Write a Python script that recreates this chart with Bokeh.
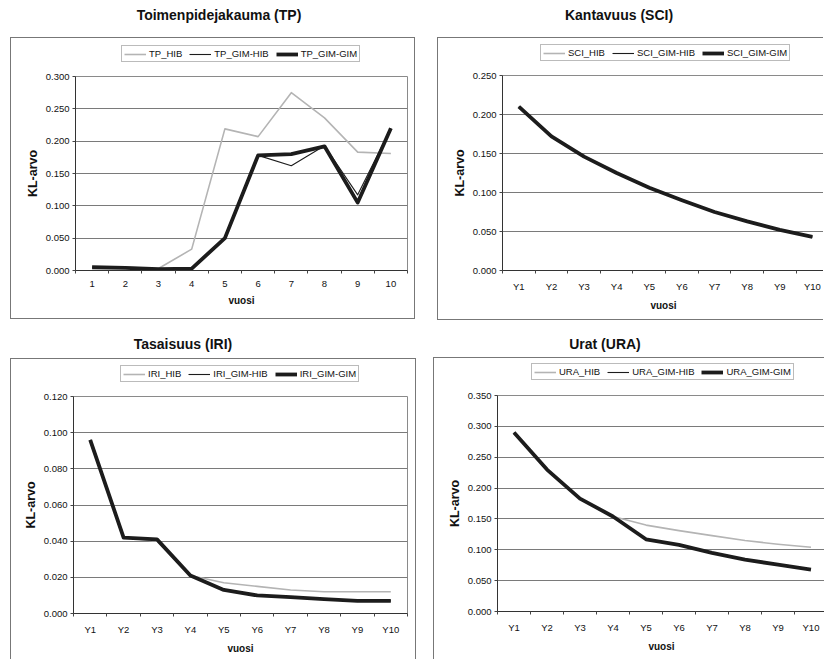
from bokeh.plotting import figure
from bokeh.models import Range1d, FixedTicker, Legend, LegendItem, Div, NumeralTickFormatter
from bokeh.layouts import row, column
from bokeh.embed import file_html
from bokeh.resources import INLINE

FONT = "Liberation Sans"
TEXT = "#111111"
BOX = "1px solid #777777"

# --- data -------------------------------------------------------------------
tp_years = ["1", "2", "3", "4", "5", "6", "7", "8", "9", "10"]
y_years = ["Y1", "Y2", "Y3", "Y4", "Y5", "Y6", "Y7", "Y8", "Y9", "Y10"]

tp_names = ["TP_HIB", "TP_GIM-HIB", "TP_GIM-GIM"]
tp_hib = [0.005, 0.005, 0.003, 0.033, 0.219, 0.207, 0.275, 0.236, 0.183, 0.181]
tp_gim_hib = [0.005, 0.004, 0.002, 0.003, 0.050, 0.178, 0.162, 0.193, 0.117, 0.220]
tp_gim_gim = [0.005, 0.004, 0.002, 0.003, 0.050, 0.178, 0.180, 0.192, 0.105, 0.220]
tp_yticks = [0.0, 0.05, 0.10, 0.15, 0.20, 0.25, 0.30]

sci_names = ["SCI_HIB", "SCI_GIM-HIB", "SCI_GIM-GIM"]
sci_hib = [0.210, 0.172, 0.146, 0.125, 0.106, 0.090, 0.075, 0.063, 0.052, 0.043]
sci_gim_hib = [0.210, 0.172, 0.146, 0.125, 0.106, 0.090, 0.075, 0.063, 0.052, 0.043]
sci_gim_gim = [0.210, 0.172, 0.146, 0.125, 0.106, 0.090, 0.075, 0.063, 0.052, 0.043]
sci_yticks = [0.0, 0.05, 0.10, 0.15, 0.20, 0.25]

iri_names = ["IRI_HIB", "IRI_GIM-HIB", "IRI_GIM-GIM"]
iri_hib = [0.096, 0.042, 0.040, 0.021, 0.017, 0.015, 0.013, 0.012, 0.012, 0.012]
iri_gim_hib = [0.096, 0.042, 0.041, 0.021, 0.013, 0.010, 0.009, 0.008, 0.007, 0.007]
iri_gim_gim = [0.096, 0.042, 0.041, 0.021, 0.013, 0.010, 0.009, 0.008, 0.007, 0.007]
iri_yticks = [0.0, 0.02, 0.04, 0.06, 0.08, 0.10, 0.12]

ura_names = ["URA_HIB", "URA_GIM-HIB", "URA_GIM-GIM"]
ura_hib = [0.290, 0.230, 0.183, 0.154, 0.140, 0.131, 0.123, 0.115, 0.109, 0.104]
ura_gim_hib = [0.290, 0.230, 0.183, 0.154, 0.117, 0.108, 0.095, 0.084, 0.076, 0.068]
ura_gim_gim = [0.290, 0.230, 0.183, 0.154, 0.117, 0.108, 0.095, 0.084, 0.076, 0.068]
ura_yticks = [0.0, 0.05, 0.10, 0.15, 0.20, 0.25, 0.30, 0.35]

# line look per series: pale hybrid, thin and thick GIM variants
LINE_STYLES = [
    dict(color="#b4b4b4", width=1.6),
    dict(color="#1c1c1c", width=1.1),
    dict(color="#1c1c1c", width=3.8),
]
LEG_STRIP = 30   # height of the strip holding the legend box


def title_div(text, width, height, pad_top, left=0):
    html = (f'<div style="font-family:\'{FONT}\'; font-weight:bold; font-size:14px; '
            f'color:{TEXT}; text-align:center; width:{width}px; padding-top:{pad_top}px; '
            f'line-height:16px; white-space:nowrap">{text}</div>')
    return Div(text=html, width=width, height=height, margin=(0, 0, 0, left))


def css(sides):
    d = {f"border-{s}": BOX for s in sides}
    d["box-sizing"] = "border-box"
    return d


def legend_strip(series, names, w, leg_left, leg_top, sides, margin):
    """Strip above the plotting area carrying the series legend.

    The series are drawn here too (outside the visible y range) so that the
    legend keys pick up the exact line styles."""
    n = len(series[0])
    s = figure(width=w, height=LEG_STRIP, x_range=Range1d(0.5, n + 0.5),
               y_range=Range1d(-2.0, -1.0),
               x_axis_location=None, y_axis_location=None,
               min_border_left=leg_left, min_border_top=leg_top,
               min_border_right=0, min_border_bottom=0,
               output_backend="svg", toolbar_location=None,
               margin=margin, styles=css(sides), frame_align=False)
    s.outline_line_color = None
    s.grid.visible = False
    s.background_fill_color = "white"
    s.border_fill_color = "white"
    xs = list(range(1, n + 1))
    keys = [s.line(xs, ys, line_color=st["color"], line_width=st["width"])
            for ys, st in zip(series, LINE_STYLES)]
    legend = Legend(
        items=[LegendItem(label=nm, renderers=[r]) for nm, r in zip(names, keys)],
        location="top_left",
        orientation="horizontal",
        border_line_color="#777777", border_line_width=1,
        background_fill_color="white", background_fill_alpha=1,
        label_text_font=FONT, label_text_font_size="9.5px", label_text_color=TEXT,
        glyph_width=22, glyph_height=10, label_height=10, label_standoff=3,
        spacing=7, padding=2, margin=0,
    )
    s.add_layout(legend)
    return s


def chart(cats, series, yticks, x_end, w, h, b_left, b_right, b_top, b_bottom,
          sides, margin):
    p = figure(width=w, height=h, x_range=Range1d(0.5, x_end),
               y_range=Range1d(yticks[0], yticks[-1]),
               output_backend="svg", toolbar_location=None,
               min_border_left=b_left, min_border_right=b_right,
               min_border_top=b_top, min_border_bottom=b_bottom,
               margin=margin, styles=css(sides), frame_align=False)
    p.background_fill_color = "white"
    p.border_fill_color = "white"
    p.outline_line_color = "#8a8a8a"

    xs = list(range(1, len(cats) + 1))
    for ys, st in zip(series, LINE_STYLES):
        p.line(xs, ys, line_color=st["color"], line_width=st["width"], line_join="round")

    # x axis: labels at the categories, small ticks between them
    xa = p.xaxis[0]
    xa.ticker = FixedTicker(ticks=xs, minor_ticks=[x - 0.5 for x in xs] + [xs[-1] + 0.5])
    xa.major_label_overrides = {x: c for x, c in zip(xs, cats)}
    xa.major_tick_out = 0
    xa.major_tick_in = 0
    xa.minor_tick_out = 3
    xa.minor_tick_in = 0
    xa.minor_tick_line_color = "#444444"
    xa.axis_line_color = "#333333"
    xa.major_label_standoff = 7
    xa.major_label_text_font = FONT
    xa.major_label_text_font_size = "9.5px"
    xa.major_label_text_color = TEXT
    xa.axis_label = "vuosi"
    xa.axis_label_text_font = FONT
    xa.axis_label_text_font_style = "bold"
    xa.axis_label_text_font_size = "10px"
    xa.axis_label_text_color = TEXT
    xa.axis_label_standoff = 5

    ya = p.yaxis[0]
    ya.ticker = FixedTicker(ticks=yticks)
    ya.formatter = NumeralTickFormatter(format="0.000")
    ya.major_tick_out = 3
    ya.major_tick_in = 0
    ya.major_tick_line_color = "#444444"
    ya.axis_line_color = "#333333"
    ya.major_label_standoff = 3
    ya.major_label_text_font = FONT
    ya.major_label_text_font_size = "9.5px"
    ya.major_label_text_color = TEXT
    ya.axis_label = "KL-arvo"
    ya.axis_label_text_font = FONT
    ya.axis_label_text_font_style = "bold"
    ya.axis_label_text_font_size = "12.5px"
    ya.axis_label_text_color = TEXT
    ya.axis_label_standoff = 3

    p.xgrid.visible = False
    p.ygrid.ticker = FixedTicker(ticks=yticks)
    p.ygrid.grid_line_color = "#7a7a7a"
    p.ygrid.grid_line_width = 1
    return p


tp_series = [tp_hib, tp_gim_hib, tp_gim_gim]
sci_series = [sci_hib, sci_gim_hib, sci_gim_gim]
iri_series = [iri_hib, iri_gim_hib, iri_gim_gim]
ura_series = [ura_hib, ura_gim_hib, ura_gim_gim]

# top-left: Toimenpidejakauma
tl_leg = legend_strip(tp_series, tp_names, 405, 110, 7, ["top", "left", "right"], (0, 0, 0, 10))
tl = chart(tp_years, tp_series, tp_yticks, 10.5,
           405, 252, 64, 9, 9, 49, ["left", "right", "bottom"], (0, 0, 6, 10))
# top-right: Kantavuus
tr_leg = legend_strip(sci_series, sci_names, 386, 102, 6, ["top", "left"], (0, 0, 0, 22))
tr = chart(y_years, sci_series, sci_yticks, 10.37,
           386, 253, 64, 0, 8, 50, ["left", "bottom"], (0, 0, 5, 22))
# bottom-left: Tasaisuus
bl_leg = legend_strip(iri_series, iri_names, 406, 109, 6, ["top", "left", "right"], (0, 0, 0, 10))
bl = chart(y_years, iri_series, iri_yticks, 10.5,
           406, 271, 62, 10, 8, 46, ["left", "right"], (0, 0, 0, 10))
# bottom-right: Urat
br_leg = legend_strip(ura_series, ura_names, 391, 97, 5, ["top", "left"], (0, 0, 0, 17))
br = chart(y_years, ura_series, ura_yticks, 10.44,
           391, 272, 63, 0, 8, 48, ["left"], (0, 0, 0, 17))

top = row(
    column(title_div("Toimenpidejakauma (TP)", 386, 37, 7, 26), tl_leg, tl),
    column(title_div("Kantavuus (SCI)", 408, 37, 7, 0), tr_leg, tr),
)
bottom = row(
    column(title_div("Tasaisuus (IRI)", 366, 33, 11, 0), bl_leg, bl),
    column(title_div("Urat (URA)", 378, 32, 11, 0), br_leg, br),
)
layout = column(top, bottom)

open("out.html", "w").write(file_html(layout, INLINE))
